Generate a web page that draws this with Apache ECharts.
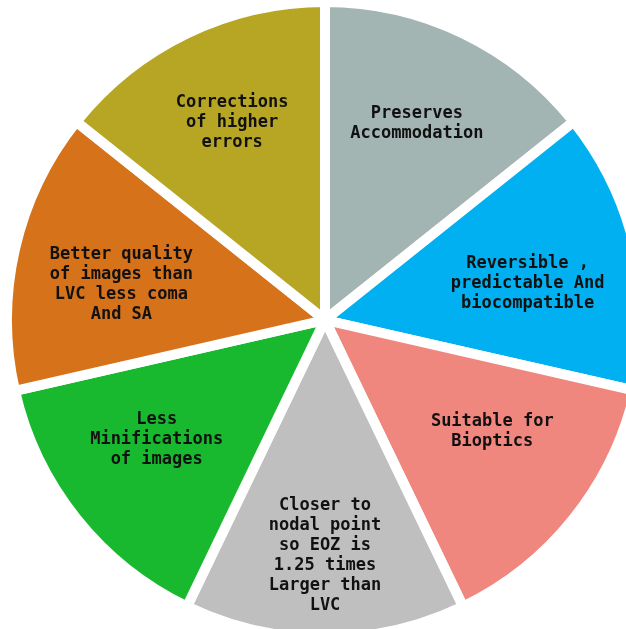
<!DOCTYPE html>
<html>
<head>
<meta charset="utf-8">
<script src="https://cdn.jsdelivr.net/npm/echarts@6/dist/echarts.min.js"></script>
<style>
html,body{margin:0;padding:0;background:#fff;}
#chart{width:626px;height:629px;}
</style>
</head>
<body>
<div id="chart"></div>
<script>
var categories = [
  "Preserves\nAccommodation",
  "Reversible ,\npredictable And\nbiocompatible",
  "Suitable for\nBioptics",
  "Closer to\nnodal point\nso EOZ is\n1.25 times\nLarger than\nLVC",
  "Less\nMinifications\nof images",
  "Better quality\nof images than\nLVC less coma\nAnd SA",
  "Corrections\nof higher\nerrors"
];
var values = [1, 1, 1, 1, 1, 1, 1];
var colors = ["#A3B5B3", "#00B0F0", "#F0877F", "#BFBFBF", "#18B92F", "#D5721A", "#B7A524"];
var labelNudge = [[-1,-4],[-6,11],[0,-22],[0,22],[-1,-14],[5,12],[0,-5]];

var chart = echarts.init(document.getElementById('chart'));
var pieData = categories.map(function(c, i){
  return {name: c, value: values[i], itemStyle: {color: colors[i]}};
});
var labelData = categories.map(function(c, i){
  return {name: c, value: values[i], label: {offset: labelNudge[i]}};
});
chart.setOption({
  animation: false,
  backgroundColor: '#fff',
  series: [
    {
      type: 'pie',
      center: [325, 320],
      radius: [0, 318],
      startAngle: 90,
      clockwise: true,
      silent: true,
      label: {show: false},
      labelLine: {show: false},
      itemStyle: {borderColor: '#fff', borderWidth: 10},
      data: pieData
    },
    {
      type: 'pie',
      center: [325, 320],
      radius: [104, 318],
      startAngle: 90,
      clockwise: true,
      silent: true,
      itemStyle: {color: 'rgba(0,0,0,0)'},
      labelLine: {show: false},
      label: {
        show: true,
        position: 'inside',
        formatter: '{b}',
        color: '#111',
        fontFamily: 'DejaVu Sans Mono',
        fontWeight: 'bold',
        fontSize: 17,
        lineHeight: 20,
        align: 'center'
      },
      data: labelData
    }
  ]
});
</script>
</body>
</html>
